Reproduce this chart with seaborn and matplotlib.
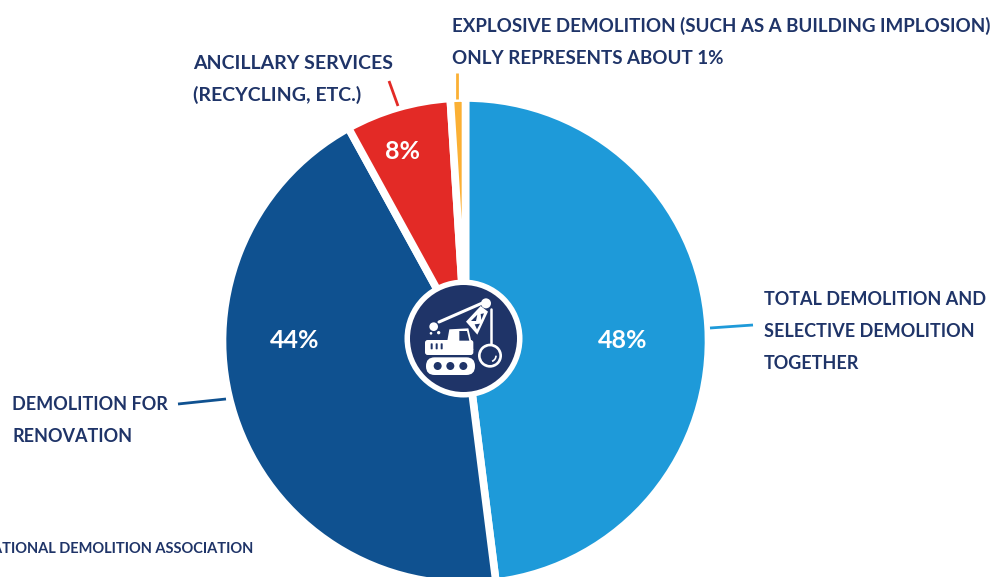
import matplotlib
matplotlib.use("Agg")
import matplotlib.pyplot as plt
from matplotlib.patches import Circle, FancyBboxPatch, Polygon, Arc
import seaborn as sns

sns.set_theme(style="white")
plt.rcParams['font.family'] = ['Lato', 'DejaVu Sans']

categories = ["Total demolition and selective demolition together", "Demolition for renovation",
              "Ancillary services", "Explosive demolition"]
values = [48, 44, 7, 1]
pct_labels = ["48%", "44%", "8%"]
colors = ["#1E9AD9", "#0F5190", "#E32A26", "#FBB034"]
NAVY = "#1F3468"

W, H = 993, 577
fig = plt.figure(figsize=(W/100, H/100), dpi=100)

pa = fig.add_axes([0, 0, 1, 1])
cx, cy, r = 465.5, 341, 243
pa.pie(values, colors=colors, startangle=90, counterclock=False,
       center=(cx, H - cy), radius=r, frame=True,
       wedgeprops=dict(edgecolor="white", linewidth=5.5))
pa.set_xlim(0, W); pa.set_ylim(0, H); pa.set_aspect("equal"); pa.axis("off")

ax = fig.add_axes([0, 0, 1, 1], facecolor="none")
ax.set_xlim(0, W); ax.set_ylim(H, 0); ax.axis("off")

renderer = fig.canvas.get_renderer()
def fit_size(s, target):
    t = ax.text(0, 0, s, fontsize=10, fontweight="bold")
    w = t.get_window_extent(renderer).width
    t.remove()
    return 10 * target / w

FS_TOP = fit_size("EXPLOSIVE DEMOLITION (SUCH AS A BUILDING IMPLOSION)", 538)
FS_ANC = fit_size("ANCILLARY SERVICES", 199)
FS_TOT = fit_size("TOTAL DEMOLITION AND", 221)
FS_REN = fit_size("DEMOLITION FOR", 155)
FS_SRC = fit_size("TIONAL DEMOLITION ASSOCIATION", 253)

def label(x, y, s, size, ha="left", color=NAVY):
    ax.text(x, y, s, ha=ha, va="baseline", fontsize=size, fontweight="bold", color=color)

label(452, 32, "EXPLOSIVE DEMOLITION (SUCH AS A BUILDING IMPLOSION)", FS_TOP)
label(452, 64, "ONLY REPRESENTS ABOUT 1%", FS_TOP)
label(193, 69, "ANCILLARY SERVICES", FS_ANC)
label(193, 101, "(RECYCLING, ETC.)", FS_ANC)
label(764, 305, "TOTAL DEMOLITION AND", FS_TOT)
label(764, 337, "SELECTIVE DEMOLITION", FS_TOT)
label(764, 369, "TOGETHER", FS_TOT)
label(12, 410, "DEMOLITION FOR", FS_REN)
label(12, 442, "RENOVATION", FS_REN)
label(253, 553, "INTERNATIONAL DEMOLITION ASSOCIATION", FS_SRC, ha="right")

label(623, 348, pct_labels[0], 18, ha="center", color="white")
label(295, 348, pct_labels[1], 18, ha="center", color="white")
label(403, 159, pct_labels[2], 18, ha="center", color="white")

for (x0, y0, x1, y1), c in zip([(710, 328, 753, 325), (178, 404, 226, 399),
                                (389, 81, 398, 106), (457, 73, 457, 99)], colors):
    ax.plot([x0, x1], [y0, y1], color=c, lw=2, solid_capstyle="butt")

bx, by = 463.5, 338.5
ax.add_patch(Circle((bx, by), 59, fc="white", ec="none", zorder=3))
ax.add_patch(Circle((bx, by), 53.5, fc=NAVY, ec="none", zorder=4))

def Z(x, y):
    return 390 + x / 3, 270 + y / 3

def circ(x, y, rad, fc="white"):
    ax.add_patch(Circle(Z(x, y), rad / 3, fc=fc, ec="none", zorder=5))

def poly(pts, fc="white"):
    ax.add_patch(Polygon([Z(*p) for p in pts], closed=True, fc=fc, ec="none", zorder=5))

def rrect(x0, y0, x1, y1, rad, fc="white"):
    (a, b), (c, d) = Z(x0, y0), Z(x1, y1)
    ax.add_patch(FancyBboxPatch((a + rad/3, b + rad/3), c - a - 2*rad/3, d - b - 2*rad/3,
                                boxstyle=f"round,pad={rad/3},rounding_size={rad/3}",
                                fc=fc, ec="none", zorder=5))

def seg(x0, y0, x1, y1, lw=1.5, c="white"):
    a, b = Z(x0, y0); d, e = Z(x1, y1)
    ax.plot([a, d], [b, e], color=c, lw=lw, solid_capstyle="round", zorder=5)

rrect(108, 262, 255, 315, 26)
for hx in (143, 181, 220):
    circ(hx, 288, 12, NAVY)
rrect(105, 210, 250, 255, 8)
poly([(172, 212), (178, 178), (235, 175), (250, 240), (172, 240)])
poly([(208, 183), (231, 183), (238, 212), (208, 212)], NAVY)
for vx in (125, 140, 155):
    rrect(vx - 3, 220, vx + 3, 238, 2, NAVY)
circ(131, 170, 13)
circ(123, 190, 4)
circ(146, 188, 5)
seg(147, 156, 275, 100, lw=2.2)
poly([(228, 155), (272, 108), (294, 125), (262, 194)])
poly([(243, 153), (262, 134), (258, 153)], NAVY)
poly([(254, 163), (270, 161), (261, 178)], NAVY)
poly([(272, 132), (282, 130), (274, 150)], NAVY)
circ(288, 100, 15)
seg(302, 118, 302, 222, lw=1.8)
circ(300, 257, 36)
circ(300, 257, 28, NAVY)
a, b = Z(300, 257)
ax.add_patch(Arc((a, b), 12, 12, theta1=0, theta2=70, ec="white", lw=1.2, zorder=6))

fig.savefig("out.png", dpi=100)
